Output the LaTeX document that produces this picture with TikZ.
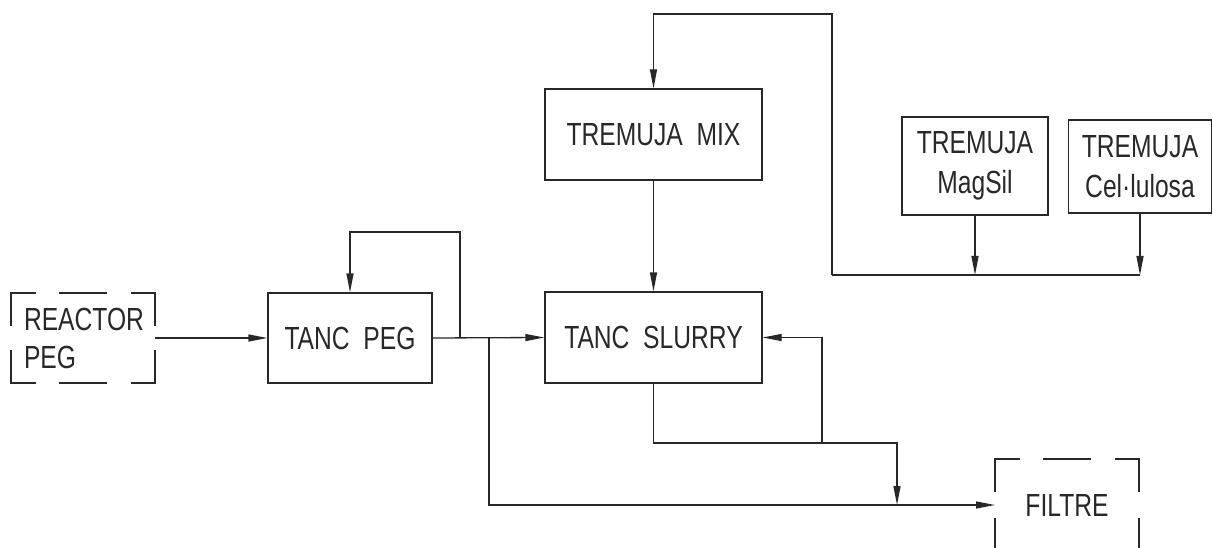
\documentclass[tikz,border=0pt]{standalone}
\usepackage{fontspec}
\newfontfamily\cadfont[FakeStretch=0.77]{Liberation Sans}
\usetikzlibrary{arrows.meta,calc}
\definecolor{ink}{RGB}{40,40,40}
\tikzset{
  ln/.style={draw=ink,line width=1.3pt},
  arr/.style={ln,-{Triangle[length=19pt,width=7pt]}},
  lbl/.style={font=\cadfont\fontsize{32}{38}\selectfont,text=ink},
  unit/.style={ln,lbl,rectangle,inner sep=0pt,align=center},
  ext/.style={lbl,rectangle,inner sep=0pt,outer sep=0pt},
}
\newcommand\dashframe[1]{%
  \draw[ln] ($(#1.north west)+(0,33)$) -- (#1.north west) -- ($(#1.north west)+(25,0)$);
  \draw[ln] ($(#1.north east)+(0,33)$) -- (#1.north east) -- ($(#1.north east)+(-24,0)$);
  \draw[ln] ($(#1.south west)+(0,-33)$) -- (#1.south west) -- ($(#1.south west)+(25,0)$);
  \draw[ln] ($(#1.south east)+(0,-33)$) -- (#1.south east) -- ($(#1.south east)+(-24,0)$);
  \draw[ln] ($(#1.north)+(-24,0)$) -- ($(#1.north)+(24,0)$);
  \draw[ln] ($(#1.south)+(-24,0)$) -- ($(#1.south)+(24,0)$);}
\begin{document}
\begin{tikzpicture}[x=1pt,y=-1pt]
\useasboundingbox (0,0) rectangle (1213,548);
\clip (0,0) rectangle (1213,548);
% nodes
\node[ext,minimum width=144pt,minimum height=90pt,text width=118pt,inner xsep=13pt,align=left] (reactor) at (83,338) {REACTOR\\PEG};
\node[unit,minimum width=164pt,minimum height=90pt] (peg) at (350,338) {TANC\ \ PEG};
\node[unit,minimum width=217pt,minimum height=91pt] (slurry) at (653.5,337.5) {TANC\ \ SLURRY};
\node[unit,minimum width=217pt,minimum height=91pt] (mix) at (653.5,134.5) {TREMUJA\ \ MIX};
\node[unit,minimum width=146pt,minimum height=98pt,font=\cadfont\fontsize{32}{40}\selectfont] (magsil) at (975,166) {TREMUJA\\MagSil};
\node[unit,minimum width=143pt,minimum height=93pt,font=\cadfont\fontsize{32}{40}\selectfont] (cel) at (1140,166.5) {TREMUJA\\Cel·lulosa};
\node[ext,minimum width=144pt,minimum height=92pt] (filtre) at (1067,505) {FILTRE};
\dashframe{reactor}
\dashframe{filtre}
% helper points
\coordinate (r1) at (460,338);
\coordinate (t1) at (350,232);
\coordinate (b1) at (489,338);
\coordinate (s1) at (897,443);
\coordinate (s2) at (822,443);
\coordinate (h0) at (832,275);
\coordinate (t2) at (653.5,14);
% connectors
\draw[arr] (reactor.east) -- (peg.west);
\draw[arr] (peg.east) -- (slurry.west);
\draw[arr] (r1) |- (t1) -- (peg.north);
\draw[arr] (b1) |- (filtre.west);
\draw[arr] (slurry.south) |- (s1) -- (s1 |- filtre.west);
\draw[arr] (s2) |- (slurry.east);
\draw[arr] (mix.south) -- (slurry.north);
\draw[arr] (magsil.south) -- (magsil.south |- h0);
\draw[arr] (cel.south) -- (cel.south |- h0);
\draw[ln] (cel.south |- h0) -- (h0);
\draw[arr] (h0) |- (t2) -- (mix.north);
\end{tikzpicture}
\end{document}
